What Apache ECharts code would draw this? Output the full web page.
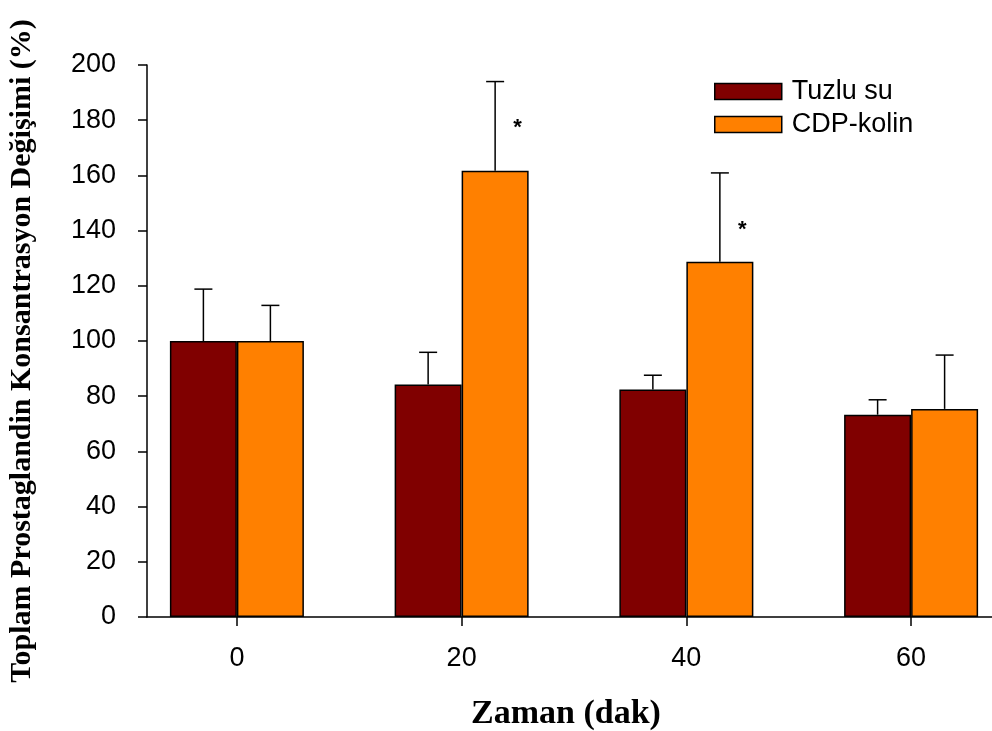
<!DOCTYPE html>
<html>
<head>
<meta charset="utf-8">
<script src="https://cdn.jsdelivr.net/npm/echarts@6/dist/echarts.min.js"></script>
<style>
    html, body { margin: 0; padding: 0; background: #fff; }
    #chart { width: 992px; height: 731px; }
</style>
</head>
<body>
<div id="chart"></div>
<script>
// data
var times = [0, 20, 40, 60];
var tuzlu = [100, 84.2, 82.4, 73.3];
var tuzluTop = [118.8, 95.9, 87.6, 78.7];   // upper end of error bar
var cdp = [100, 161.7, 128.7, 75.4];
var cdpTop = [112.9, 194, 160.9, 94.9];
var starTimes = [20, 40];
var starValues = [178, 141];
var yTicks = [0, 20, 40, 60, 80, 100, 120, 140, 160, 180, 200];

var seriesNames = ['Tuzlu su', 'CDP-kolin'];
var colorList = ['#800000', '#ff8000'];

(function () {
    var myChart = echarts.init(document.getElementById('chart'));

    function pairs(xs, ys) {
        var out = [];
        for (var i = 0; i < xs.length; i++) {
            out.push([xs[i], ys[i]]);
        }
        return out;
    }
    function triples(xs, lo, hi) {
        var out = [];
        for (var i = 0; i < xs.length; i++) {
            out.push([xs[i], lo[i], hi[i]]);
        }
        return out;
    }

    // error bar drawn upward from the bar top, shifted to the bar centre
    function errorBar(offset) {
        return function (params, api) {
            var base = api.coord([api.value(0), api.value(1)]);
            var cap = api.coord([api.value(0), api.value(2)]);
            var x = base[0] + offset;
            var st = { stroke: '#000', lineWidth: 1.5 };
            return {
                type: 'group',
                children: [
                    { type: 'line', shape: { x1: x, y1: base[1], x2: x, y2: cap[1] }, style: st },
                    { type: 'line', shape: { x1: x - 9, y1: cap[1], x2: x + 9, y2: cap[1] }, style: st }
                ]
            };
        };
    }

    var option = {
        animation: false,
        color: colorList,
        grid: {
            left: 147,
            top: 65,
            width: 854,
            bottom: 114,
            outerBoundsMode: 'none'
        },
        legend: {
            data: seriesNames,
            orient: 'vertical',
            left: 709,
            top: 73,
            icon: 'rect',
            itemWidth: 67,
            itemHeight: 16,
            itemGap: 6,
            itemStyle: {
                borderColor: '#000',
                borderWidth: 1.5
            },
            textStyle: {
                fontFamily: 'Liberation Sans',
                fontSize: 27,
                lineHeight: 26,
                color: '#000',
                padding: [0, 0, 0, 5]
            }
        },
        xAxis: {
            type: 'value',
            min: -8,
            max: 68,
            name: 'Zaman (dak)',
            nameLocation: 'middle',
            nameGap: 80,
            nameTextStyle: {
                fontFamily: 'Liberation Serif',
                fontWeight: 'bold',
                fontSize: 34,
                color: '#000',
                padding: [0, 16, 0, 0]
            },
            axisLine: { lineStyle: { color: '#000', width: 1.5 } },
            axisTick: {
                show: true,
                length: 9,
                customValues: times,
                lineStyle: { color: '#000', width: 1.5 }
            },
            axisLabel: {
                customValues: times,
                margin: 28,
                fontFamily: 'Liberation Sans',
                fontSize: 27,
                color: '#000'
            },
            splitLine: { show: false }
        },
        yAxis: {
            type: 'value',
            min: 0,
            max: 200,
            interval: 20,
            name: 'Toplam Prostaglandin Konsantrasyon Değişimi (%)',
            nameLocation: 'middle',
            nameRotate: 90,
            nameGap: 110,
            nameTextStyle: {
                fontFamily: 'Liberation Serif',
                fontWeight: 'bold',
                fontSize: 30,
                color: '#000',
                padding: [0, 20, 0, 0]
            },
            axisLine: { show: true, onZero: false, lineStyle: { color: '#000', width: 1.5 } },
            axisTick: {
                show: true,
                length: 9,
                lineStyle: { color: '#000', width: 1.5 }
            },
            axisLabel: {
                margin: 31,
                fontFamily: 'Liberation Sans',
                fontSize: 27,
                color: '#000',
                customValues: yTicks
            },
            splitLine: { show: false }
        },
        series: [
            {
                name: seriesNames[0],
                type: 'bar',
                barWidth: 67,
                barGap: '0%',
                itemStyle: { color: colorList[0], borderColor: '#000', borderWidth: 1.5 },
                data: pairs(times, tuzlu)
            },
            {
                name: seriesNames[1],
                type: 'bar',
                barWidth: 67,
                barGap: '0%',
                itemStyle: { color: colorList[1], borderColor: '#000', borderWidth: 1.5 },
                data: pairs(times, cdp)
            },
            {
                type: 'custom',
                z: 5,
                renderItem: errorBar(-33.5),
                data: triples(times, tuzlu, tuzluTop)
            },
            {
                type: 'custom',
                z: 5,
                renderItem: errorBar(33.5),
                data: triples(times, cdp, cdpTop)
            },
            {
                // significance marks
                type: 'custom',
                z: 5,
                renderItem: function (params, api) {
                    var p = api.coord([api.value(0), api.value(1)]);
                    return {
                        type: 'text',
                        x: p[0] + 56,
                        y: p[1] + 2,
                        style: {
                            text: '*',
                            fontFamily: 'Liberation Sans',
                            fontWeight: 'bold',
                            fontSize: 22,
                            fill: '#000',
                            align: 'center',
                            verticalAlign: 'middle'
                        }
                    };
                },
                data: pairs(starTimes, starValues)
            }
        ]
    };

    myChart.setOption(option);
})();
</script>
</body>
</html>
